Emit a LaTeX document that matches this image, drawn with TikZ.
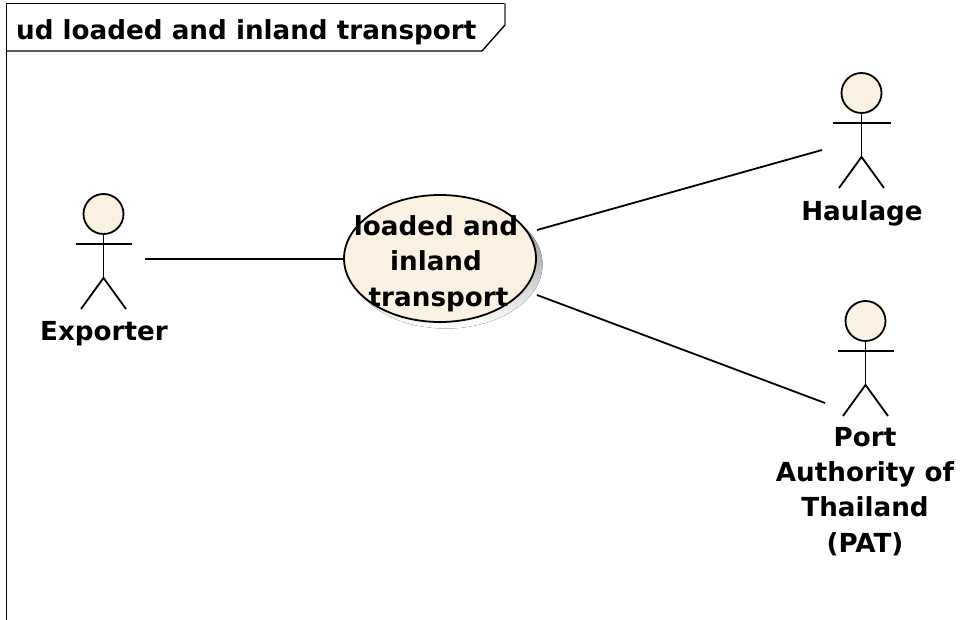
\documentclass[tikz,border=0pt]{standalone}
\usepackage{fontspec}
\usetikzlibrary{shapes.geometric}
\setmainfont{DejaVu Sans}
\definecolor{cream}{RGB}{250,241,227}
\definecolor{shade}{RGB}{185,185,185}
\tikzset{
  x=1pt,y=-1pt,
  lbl/.style={font=\fontsize{26.2}{35}\selectfont\bfseries,align=center,inner sep=0pt,text=black,anchor=base},
  ln/.style={draw=black,line width=1.8pt},
  thin frame/.style={draw=black,line width=1.4pt},
  head/.style={circle,draw=black,line width=1.8pt,fill=cream,minimum size=40pt,inner sep=0pt},
  usecase/.style={ellipse,draw=black,line width=1.8pt,fill=cream,minimum width=192pt,minimum height=127pt,inner sep=0pt},
}
\newcommand{\actorfig}[4]{%
  \node[head] (#1) at (#2,#3) {};
  \draw[ln] (#1.south) -- ++(0,43) coordinate (#1hip);
  \draw[ln] (#2-#4,#3+30) -- (#2+#4,#3+30);
  \draw[ln] (#2-22.5,#3+95) -- (#1hip) -- (#2+22.5,#3+95);
}
\begin{document}
\begin{tikzpicture}
\useasboundingbox (0,0) rectangle (963,620);
\fill[white] (0,0) rectangle (963,620);
% frame
\draw[thin frame] (6.5,620) -- (6.5,3.5) -- (505,3.5);
\draw[draw=black!55,line width=1.4pt] (505,3.5) -- (505,25);
\draw[thin frame] (505,25) -- (482,51) -- (6.5,51);
\node[lbl,anchor=base west] (title) at (16,39.5) {ud loaded and inland transport};
% use case
\fill[shade] (446,264.5) ellipse [x radius=96.5,y radius=64];
\node[usecase] (uc) at (440,258.5) {};
\node[lbl] (uclabel) at (436,235.5) {loaded and};
\node[lbl] (uclabel2) at (436,270.5) {inland};
\node[lbl] (uclabel3) at (438.5,306) {transport};
% actors
\actorfig{exp}{103.5}{214}{28}
\node[lbl] (exporter) at (104,340) {Exporter};
\actorfig{hau}{861.5}{93}{29}
\node[lbl] (haulage) at (862,220.5) {Haulage};
\actorfig{pat}{865.5}{321}{28}
\node[lbl] (pat1) at (865,446.5) {Port};
\node[lbl] (pat2) at (865,481.5) {Authority of};
\node[lbl] (pat3) at (865,516.5) {Thailand};
\node[lbl] (pat4) at (865,552) {(PAT)};
% connectors
\coordinate (c1) at (145,259);
\coordinate (c2a) at (537,230);
\coordinate (c2b) at (822,150);
\coordinate (c3a) at (537,295);
\coordinate (c3b) at (825,403);
\draw[ln] (c1) -- (c1 -| uc.west);
\draw[ln] (c2a) -- (c2b);
\draw[ln] (c3a) -- (c3b);
\end{tikzpicture}
\end{document}
